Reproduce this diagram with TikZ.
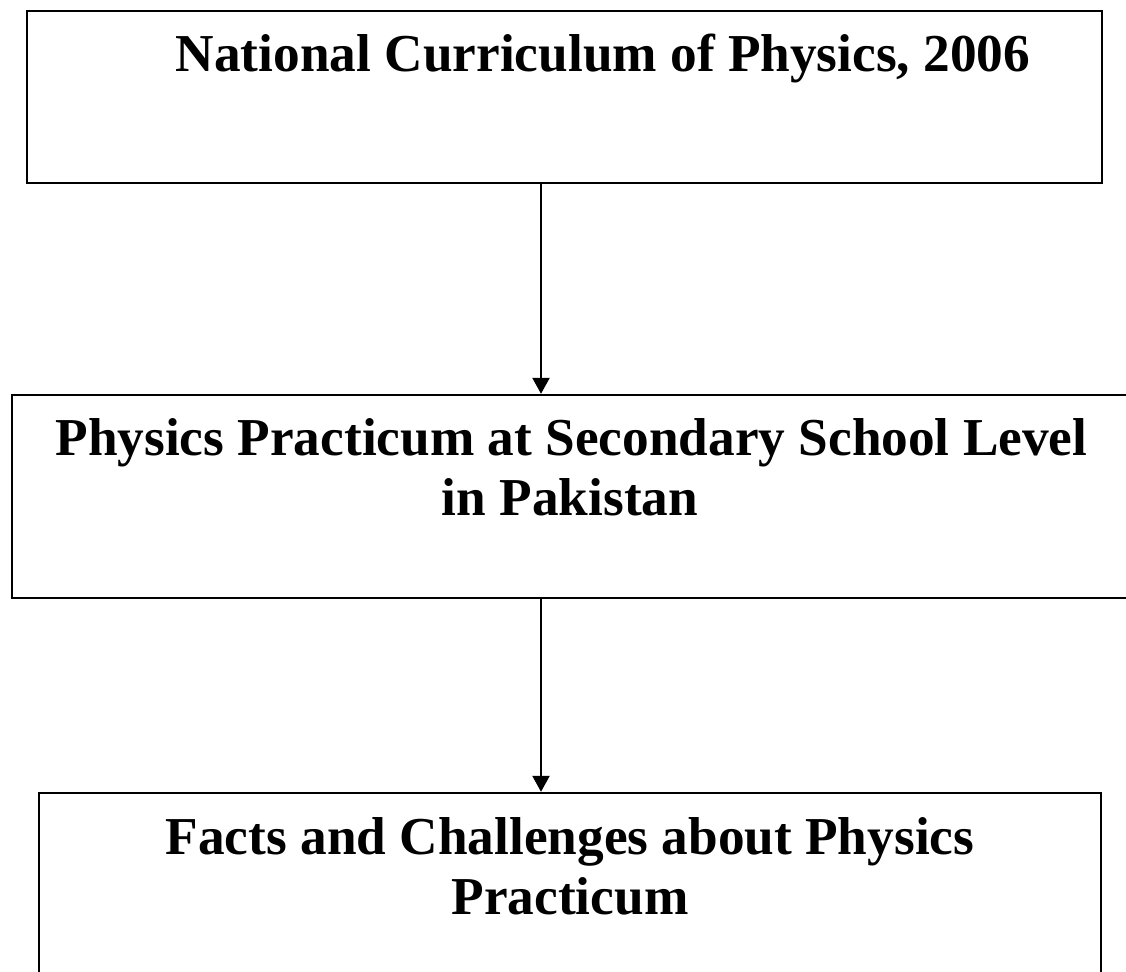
\documentclass[tikz,border=0pt]{standalone}
\usepackage{fontspec}
\setmainfont{Liberation Serif}
\usetikzlibrary{arrows.meta}
\begin{document}
\begin{tikzpicture}[x=1pt,y=-1pt,
  box/.style={draw=black,line width=2.4pt,rectangle,inner sep=0pt},
  lbl/.style={font=\fontsize{53.3}{60}\selectfont\bfseries,anchor=base,inner sep=0pt},
  conn/.style={line width=2.4pt,-{Triangle[width=17pt,length=16pt]}}]
\useasboundingbox (0,0) rectangle (1126,971);
\node[box,minimum width=1075pt,minimum height=172pt] (b1) at (564.5,97) {};
\node[box,minimum width=1128pt,minimum height=203pt] (b2) at (576,496.5) {};
\node[box,minimum width=1062pt,minimum height=207pt] (b3) at (570,896.5) {};
\node[lbl] (t1) at (603,72) {National Curriculum of Physics, 2006};
\node[lbl] (t2a) at (571.5,455) {Physics Practicum at Secondary School Level};
\node[lbl] (t2b) at (570,515) {in Pakistan};
\node[lbl] (t3a) at (570,854) {Facts and Challenges about Physics};
\node[lbl] (t3b) at (570,914) {Practicum};
\coordinate (ax) at (541,0);
\draw[conn] (b1.south -| ax) -- (b2.north -| ax);
\draw[conn] (b2.south -| ax) -- (b3.north -| ax);
\end{tikzpicture}
\end{document}
